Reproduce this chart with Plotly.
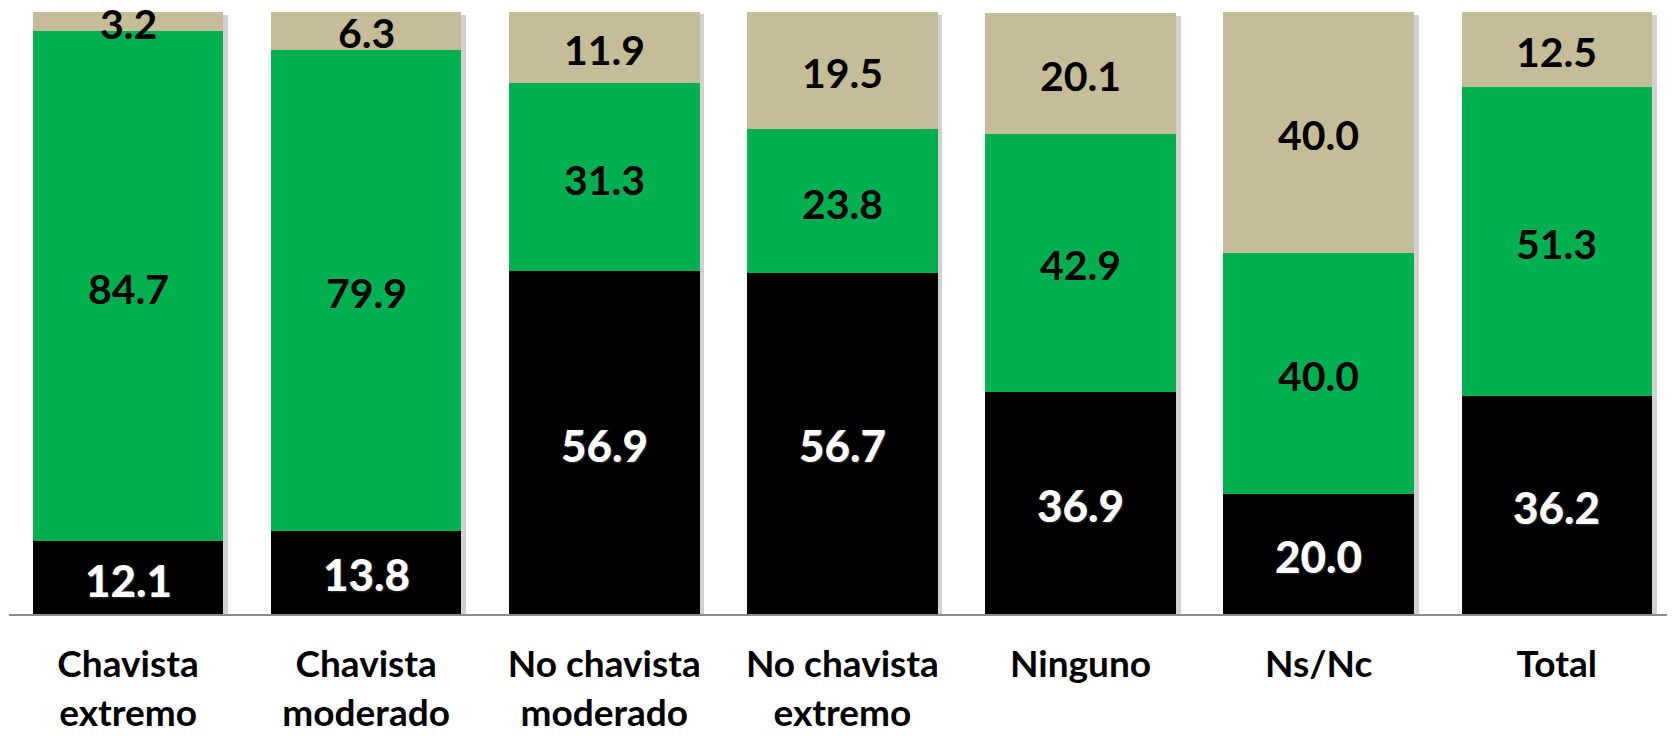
import plotly.graph_objects as go

categories = ["Chavista<br>extremo", "Chavista<br>moderado", "No chavista<br>moderado",
              "No chavista<br>extremo", "Ninguno", "Ns/Nc", "Total"]
black_vals = [12.1, 13.8, 56.9, 56.7, 36.9, 20.0, 36.2]
green_vals = [84.7, 79.9, 31.3, 23.8, 42.9, 40.0, 51.3]
tan_vals = [3.2, 6.3, 11.9, 19.5, 20.1, 40.0, 12.5]

FONT = "Lato"
totals = [a + b + c for a, b, c in zip(black_vals, green_vals, tan_vals)]

fig = go.Figure()
# soft drop shadow behind the bars
fig.add_trace(go.Bar(
    x=categories, y=totals, base=-0.5, width=0.8, offset=-0.38,
    marker=dict(color="rgba(0,0,0,0.18)", line=dict(width=0)),
    cliponaxis=False, hoverinfo="skip", xaxis="x", yaxis="y"))

series = [
    (black_vals, "#000000"),
    (green_vals, "#00AF50"),
    (tan_vals, "#C4BD97"),
]
for vals, col in series:
    fig.add_trace(go.Bar(
        x=categories, y=vals, marker=dict(color=col, line=dict(width=0)),
        hoverinfo="skip", xaxis="x2", yaxis="y2", cliponaxis=False))

# value labels centred in each segment
bottoms = [0.0] * len(categories)
for idx, (vals, col) in enumerate(series):
    for i, v in enumerate(vals):
        mid = bottoms[i] + v / 2
        if idx == 0:
            font = dict(family=FONT, size=44, color="white", weight=900,
                        shadow="1px 1px 2px #333")
        else:
            font = dict(family=FONT, size=41, color="black", weight="bold")
        fig.add_annotation(x=categories[i], y=mid, xref="x2", yref="y2",
                           text=f"{v:.1f}", showarrow=False, font=font,
                           xanchor="center", yanchor="middle", yshift=-2)
        bottoms[i] += v

fig.update_layout(
    barmode="stack", bargap=0.2,
    width=1659, height=731,
    margin=dict(l=1, r=0, t=4, b=125),
    paper_bgcolor="white", plot_bgcolor="white",
    showlegend=False,
    font=dict(family=FONT),
    xaxis=dict(showline=True, linecolor="#8c8c8c", linewidth=2, ticks="",
               tickfont=dict(family=FONT, size=37, color="black", weight="bold"),
               showgrid=False, range=[-0.5, 6.463], ticklabelstandoff=17,
               automargin=False,
               categoryorder="array", categoryarray=categories),
    yaxis=dict(range=[0, 100], visible=False, showgrid=False),
    xaxis2=dict(overlaying="x", matches="x", visible=False,
                categoryorder="array", categoryarray=categories),
    yaxis2=dict(overlaying="y", matches="y", visible=False),
)

fig.write_html("out.html")
